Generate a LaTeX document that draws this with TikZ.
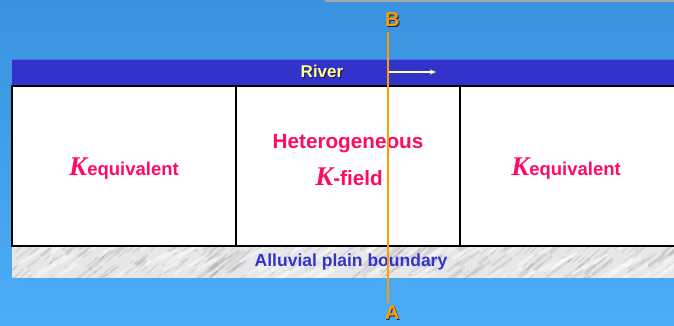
\documentclass[tikz,border=0pt]{standalone}
\usepackage{fontspec}
\setmainfont{Liberation Sans}
\newfontfamily\kfont{Liberation Serif}
\usetikzlibrary{arrows.meta}
\definecolor{skytop}{HTML}{3A92DE}
\definecolor{skybot}{HTML}{4BADF6}
\definecolor{riverblue}{HTML}{3333CC}
\definecolor{riverhi}{HTML}{4A6FE0}
\definecolor{riverlabel}{HTML}{FFFF99}
\definecolor{kpink}{HTML}{FF0A64}
\definecolor{lineorange}{HTML}{FF9A00}
\definecolor{shadowdark}{HTML}{1A1A40}
\definecolor{marble}{HTML}{E6E7E8}
\tikzset{
  cell/.style={draw=black, line width=2pt, fill=white, inner sep=0pt,
    minimum width=224pt, minimum height=160pt},
  pinktext/.style={text=kpink, font=\bfseries\fontsize{18.5}{22}\selectfont,
    inner sep=0pt, align=center},
  shadowlbl/.style={text=shadowdark, inner sep=0pt},
  sectionlbl/.style={text=lineorange, inner sep=0pt,
    font=\bfseries\fontsize{20}{24}\selectfont},
  riverlbl/.style={inner sep=0pt, font=\bfseries\fontsize{17}{20}\selectfont},
  plainlbl/.style={text=riverblue, inner sep=0pt,
    font=\bfseries\fontsize{17.5}{20}\selectfont},
  section line/.style={draw=lineorange, line width=2pt},
  flow/.style={draw=riverlabel!60!white, line width=1.6pt,
    -{Stealth[length=6pt,width=5pt]}},
}
\newcommand{\Kbig}{{\kfont\bfseries\itshape\fontsize{27}{28}\selectfont K}}
\begin{document}
\begin{tikzpicture}[x=1pt,y=-1pt]
  \useasboundingbox (0,0) rectangle (674,325);
  % sky background
  \shade[top color=skytop, bottom color=skybot] (0,0) rectangle (674,325);
  \fill[gray!70] (325,0) rectangle (674,1.5);

  % river band
  \fill[riverblue] (11.5,58.5) rectangle (674,84.5);
  \draw[riverhi, line width=1pt] (11.5,59) -- (674,59);

  % alluvial plain band with a marbled texture
  \begin{scope}
    \clip (11.5,246) rectangle (674,277.5);
    \fill[marble] (11.5,246) rectangle (674,277.5);
    \pgfmathsetseed{11}
    % soft grey veins
    \foreach \i in {1,...,140}{
      \pgfmathsetmacro{\px}{0+680*rnd}
      \pgfmathsetmacro{\py}{244+40*rnd}
      \pgfmathsetmacro{\pl}{8+18*rnd}
      \pgfmathsetmacro{\pw}{1+3*rnd}
      \draw[black!45, opacity=0.18, line width=\pw pt, line cap=round]
        (\px,\py) -- ++(\pl,-0.75*\pl);
    }
    % fine dark veins
    \foreach \i in {1,...,160}{
      \pgfmathsetmacro{\px}{0+680*rnd}
      \pgfmathsetmacro{\py}{244+40*rnd}
      \pgfmathsetmacro{\pl}{3+9*rnd}
      \draw[black!60, opacity=0.3, line width=0.5pt, line cap=round]
        (\px,\py) -- ++(\pl,-0.9*\pl);
    }
    % bright patches
    \foreach \i in {1,...,90}{
      \pgfmathsetmacro{\px}{0+680*rnd}
      \pgfmathsetmacro{\py}{244+40*rnd}
      \pgfmathsetmacro{\pl}{10+20*rnd}
      \draw[white, opacity=0.45, line width=3pt, line cap=round]
        (\px,\py) -- ++(\pl,-0.6*\pl);
    }
  \end{scope}

  % the three cells
  \node[cell] (left)   at (124,165.5) {};
  \node[cell] (middle) at (348,165.5) {};
  \node[cell, minimum width=226pt] (right) at (573,165.5) {};

  % cell texts
  \node[pinktext] (lefttxt) at (124,169) {\Kbig equivalent};
  \node[pinktext, font=\bfseries\fontsize{20.7}{24}\selectfont]
    (midtop) at (348,144) {Heterogeneous};
  \node[pinktext, font=\bfseries\fontsize{20.7}{24}\selectfont]
    (midbot) at (349,177) {\Kbig-field};
  \node[pinktext] (righttxt) at (566,169) {\Kbig equivalent};

  % river label and flow direction
  \node[riverlbl, shadowlbl] (rivershadow) at (323,72.8) {River};
  \node[riverlbl, text=riverlabel] (river) at (322,71.8) {River};
  \coordinate (flowstart) at (389,72);
  \coordinate (flowend) at (436,72);
  \draw[flow] (flowstart) -- (flowend);

  % alluvial plain label
  \node[plainlbl] (plain) at (351,262) {Alluvial plain boundary};

  % section line A-B
  \coordinate (topB) at (388,32);
  \coordinate (botA) at (388,303);
  \draw[section line] (topB) -- (botA);
  \node[sectionlbl, text=shadowdark] (Bshadow) at (393.3,20.3) {B};
  \node[sectionlbl] (B) at (392.3,19.3) {B};
  \node[sectionlbl, text=shadowdark] (Ashadow) at (393,313.3) {A};
  \node[sectionlbl] (A) at (392.3,312.5) {A};
\end{tikzpicture}
\end{document}
